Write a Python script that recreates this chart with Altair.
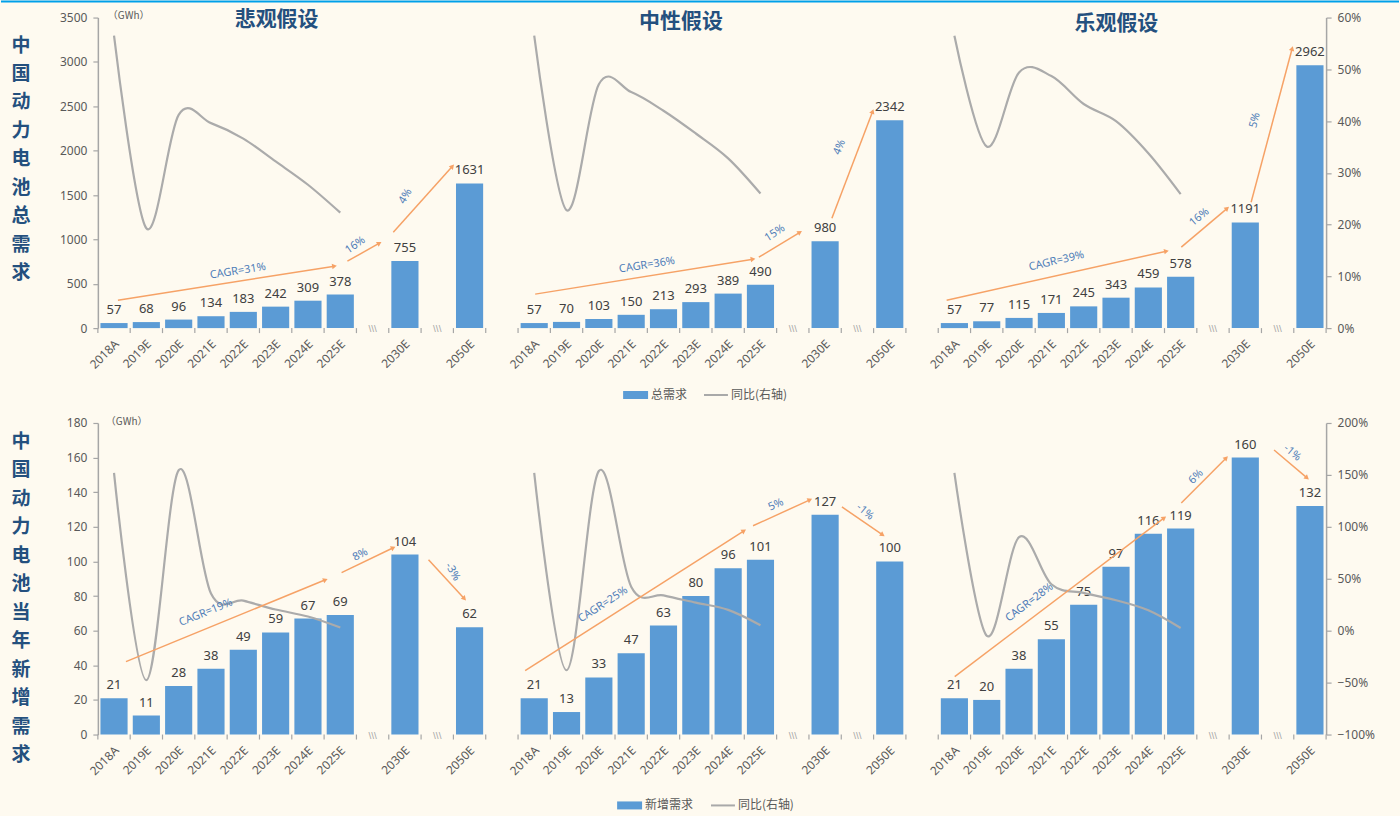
import math
import altair as alt
import pandas as pd

# ---------------- data ----------------
categories = ["2018A", "2019E", "2020E", "2021E", "2022E", "2023E", "2024E", "2025E", "2030E", "2050E"]
slot_index = [0, 1, 2, 3, 4, 5, 6, 7, 9, 11]      # slot of each category inside a panel
break_slot_index = [8, 10]                        # axis-break slots inside a panel
panel_offset = [0, 13, 26]
n_slots = 38
scenario_titles = ["悲观假设", "中性假设", "乐观假设"]

total_pess = [57, 68, 96, 134, 183, 242, 309, 378, 755, 1631]
total_neut = [57, 70, 103, 150, 213, 293, 389, 490, 980, 2342]
total_opt = [57, 77, 115, 171, 245, 343, 459, 578, 1191, 2962]
total_yoy_pess = [56.5, 19.3, 41.2, 39.6, 36.6, 32.2, 27.7, 22.3]
total_yoy_neut = [56.5, 22.8, 47.1, 45.6, 42.0, 37.6, 32.8, 26.0]
total_yoy_opt = [56.5, 35.1, 49.4, 48.7, 43.3, 40.0, 33.8, 25.9]

new_pess = [21, 11, 28, 38, 49, 59, 67, 69, 104, 62]
new_neut = [21, 13, 33, 47, 63, 80, 96, 101, 127, 100]
new_opt = [21, 20, 38, 55, 75, 97, 116, 119, 160, 132]
new_yoy_pess = [152, -47.6, 154.5, 35.7, 28.9, 20.4, 13.6, 3.0]
new_yoy_neut = [152, -38.1, 153.8, 42.4, 34.0, 27.0, 20.0, 5.2]
new_yoy_opt = [152, -4.8, 90.0, 44.7, 36.4, 29.3, 19.6, 2.6]

# growth arrows (x in slot units, y in GWh)
top_arrow_text = ["CAGR=31%", "16%", "4%", "CAGR=36%", "15%", "4%", "CAGR=39%", "16%", "5%"]
top_arrow_from_x = [0.62, 7.72, 9.14, 13.53, 20.45, 22.71, 26.26, 33.52, 35.68]
top_arrow_from_y = [315, 754, 1080, 383, 799, 1238, 315, 912, 1418]
top_arrow_to_x = [7.32, 8.71, 10.97, 20.27, 21.72, 23.97, 33.06, 34.94, 36.95]
top_arrow_to_y = [698, 957, 1823, 777, 1080, 2442, 867, 1350, 3151]
top_label_x = [4.33, 7.97, 9.52, 16.99, 20.95, 22.95, 29.66, 34.08, 35.8]
top_label_y = [641, 934, 1485, 709, 1069, 2037, 754, 1249, 2341]
top_label_angle = [351, 325, 300, 351, 327, 292, 347, 320, 285]

bottom_arrow_text = ["CAGR=19%", "8%", "-3%", "CAGR=25%", "5%", "-1%", "CAGR=28%", "6%", "-1%"]
bottom_arrow_from_x = [0.87, 7.54, 10.23, 13.22, 20.27, 23.02, 26.51, 33.52, 36.39]
bottom_arrow_from_y = [42.1, 93.5, 101, 36.9, 120.6, 131.5, 33.5, 133.8, 164.4]
bottom_arrow_to_x = [7.04, 9.14, 11.34, 19.99, 22.03, 24.28, 32.99, 34.91, 37.41]
bottom_arrow_to_y = [89.4, 107.9, 78.5, 117.7, 135.6, 115.4, 125.2, 159.8, 148.3]
bottom_label_x = [3.34, 8.12, 10.97, 15.63, 20.98, 23.73, 28.82, 33.98, 36.95]
bottom_label_y = [70.4, 103.8, 94, 75, 132.7, 128.6, 76.2, 148.8, 162.7]
bottom_label_angle = [338, 332, 60, 327, 335, 40, 323, 315, 40]

top_left_ticks = [0, 500, 1000, 1500, 2000, 2500, 3000, 3500]
top_right_ticks = [0, 0.1, 0.2, 0.3, 0.4, 0.5, 0.6]
bottom_left_ticks = [0, 20, 40, 60, 80, 100, 120, 140, 160, 180]
bottom_right_ticks = [-1, -0.5, 0, 0.5, 1, 1.5, 2]

# ---------------- style ----------------
W = 1230
BG = "#FEFAF0"
BAR = "#5B9BD5"
AX = "#A6A6A6"
LBL = "#595959"
VAL = "#404040"
ORANGE = "#F6A266"
BLUE_TXT = "#4F7DB8"
TITLE = "#24507E"
CJK = "Noto Sans CJK SC"
NUM = "Noto Sans"


def pix_text(text, x, y, **kw):
    return alt.Chart(pd.DataFrame({"t": [text]})).mark_text(**kw).encode(
        text="t:N", x=alt.value(x), y=alt.value(y))


def build_row(values, yoys, H, ymax, yticks, rdom, rticks, arr, vtitle, vtop, gwh_x, gwh_y,
              legend_name, leg_x, leg_y, is_top):
    xs = alt.Scale(domain=[0, n_slots], nice=False, zero=False)
    ls = alt.Scale(domain=[0, ymax], nice=False, zero=True)
    rs = alt.Scale(domain=rdom, nice=False, zero=False)

    bar_rows, line_rows, brk_rows = [], [], []
    for p in range(3):
        for i, c in enumerate(categories):
            s = panel_offset[p] + slot_index[i]
            bar_rows.append({"xc": s + 0.5, "xa": s + 0.08, "xb": s + 0.92,
                             "v": values[p][i], "lab": str(values[p][i]), "cat": c})
        for i, r in enumerate(yoys[p]):
            s = panel_offset[p] + slot_index[i]
            line_rows.append({"xc": s + 0.5, "r": r / 100.0, "panel": p})
        for b in break_slot_index:
            brk_rows.append({"xc": panel_offset[p] + b + 0.5})
    bdf = pd.DataFrame(bar_rows)
    ldf = pd.DataFrame(line_rows)
    brdf = pd.DataFrame(brk_rows)
    tdf = pd.DataFrame({"b": list(range(n_slots + 1))})

    fx, fy, tx, ty, lx, ly, la, txt = arr
    pxu = W / n_slots
    pyu = H / ymax
    adf = pd.DataFrame({"x1": fx, "y1": fy, "x2": tx, "y2": ty})
    adf["ang"] = [
        math.degrees(math.atan2((b - a) * pxu, (d - c) * pyu)) % 360
        for a, b, c, d in zip(fx, tx, fy, ty)
    ]
    labdf = pd.DataFrame({"x": lx, "y": ly, "a": la, "t": txt})

    ax_kw = dict(title=None, grid=False, domainColor=AX, domainWidth=1.5, tickColor=AX,
                 tickSize=5, tickWidth=1.2, labelColor=LBL, labelFontSize=12, labelFont=NUM)
    left_axis = alt.Axis(values=yticks, format="d", labelPadding=6, **ax_kw)

    bars = alt.Chart(bdf).mark_bar(color=BAR).encode(
        x=alt.X("xa:Q", scale=xs, axis=alt.Axis(labels=False, ticks=False, grid=False, title=None,
                                                domainColor=AX, domainWidth=1.5)),
        x2="xb:Q",
        y=alt.Y("v:Q", scale=ls, axis=left_axis),
        y2=alt.datum(0),
    )
    vlabels = alt.Chart(bdf).mark_text(baseline="bottom", dy=-6, fontSize=13, color=VAL, font=NUM).encode(
        x=alt.X("xc:Q", axis=None), y=alt.Y("v:Q", scale=ls, axis=left_axis), text="lab:N")
    clabels = alt.Chart(bdf).mark_text(angle=315, align="right", baseline="middle", fontSize=12,
                                       color=LBL, font=NUM, dy=4).encode(
        x=alt.X("xc:Q", axis=None), y=alt.value(H + 11), text="cat:N")
    ticks = alt.Chart(tdf).mark_rule(color=AX, strokeWidth=1.2).encode(
        x=alt.X("b:Q", axis=None), y=alt.value(H), y2=alt.value(H + 5))
    breaks = alt.Chart(brdf).mark_text(text="\\\\\\", fontSize=10, color=AX, baseline="middle").encode(
        x=alt.X("xc:Q", axis=None), y=alt.value(H + 1))
    g1 = alt.layer(bars, vlabels, clabels, ticks, breaks)

    line = alt.Chart(ldf).mark_line(interpolate="cardinal", color="#ABABAB", strokeWidth=2.2).encode(
        x=alt.X("xc:Q", axis=None),
        y=alt.Y("r:Q", scale=rs, axis=alt.Axis(orient="right", values=rticks, format=".0%",
                                               labelPadding=6, **ax_kw)),
        detail="panel:N",
    )
    g2 = alt.layer(line)

    ls2 = alt.Scale(domain=[0, ymax], nice=False, zero=True)
    arrows = alt.Chart(adf).mark_rule(color=ORANGE, strokeWidth=1.5).encode(
        x=alt.X("x1:Q", axis=None), x2="x2:Q",
        y=alt.Y("y1:Q", scale=ls2, axis=None), y2="y2:Q")
    heads = alt.Chart(adf).mark_point(shape="triangle-up", filled=True, size=30, color=ORANGE, opacity=1).encode(
        x=alt.X("x2:Q", axis=None), y=alt.Y("y2:Q", scale=ls2, axis=None),
        angle=alt.Angle("ang:Q", scale=None))
    alabels = alt.Chart(labdf).mark_text(fontSize=11, color=BLUE_TXT, font=NUM, baseline="middle").encode(
        x=alt.X("x:Q", axis=None), y=alt.Y("y:Q", scale=ls2, axis=None), text="t:N",
        angle=alt.Angle("a:Q", scale=None))

    extras = []
    extras.append(alt.Chart(pd.DataFrame({"k": [1]})).mark_text(
        text=list(vtitle), lineHeight=28.5, fontSize=19, fontWeight="bold", color=TITLE, font=CJK,
        align="center", baseline="top").encode(x=alt.value(-77), y=alt.value(vtop)))
    extras.append(pix_text("（GWh）", gwh_x, gwh_y, fontSize=10, color=LBL, font=CJK, align="left",
                           baseline="middle"))
    extras.append(alt.Chart(pd.DataFrame({"k": [1]})).mark_rect(color=BAR).encode(
        x=alt.value(leg_x), x2=alt.value(leg_x + 25), y=alt.value(leg_y - 4), y2=alt.value(leg_y + 4)))
    name_w = 13 * len(legend_name)
    extras.append(pix_text(legend_name, leg_x + 28, leg_y, fontSize=12, color=LBL, font=CJK,
                           align="left", baseline="middle"))
    lx0 = leg_x + 28 + name_w + 14
    extras.append(alt.Chart(pd.DataFrame({"k": [1]})).mark_rule(color="#A9A9A9", strokeWidth=2).encode(
        x=alt.value(lx0), x2=alt.value(lx0 + 24), y=alt.value(leg_y)))
    extras.append(pix_text("同比(右轴)", lx0 + 27, leg_y, fontSize=12, color=LBL, font=CJK,
                           align="left", baseline="middle"))
    if is_top:
        extras.append(alt.Chart(pd.DataFrame({"k": [1]})).mark_rule(color="#00A0E9", strokeWidth=2).encode(
            x=alt.value(-97), x2=alt.value(1303), y=alt.value(-16)))
        title_pos = [(179, 2), (584, 4), (1020, 6)]
        for t, (px, py) in zip(scenario_titles, title_pos):
            extras.append(pix_text(t, px, py, fontSize=21, fontWeight="bold", color=TITLE, font=CJK,
                                   align="center", baseline="middle"))
    else:
        extras.append(alt.Chart(pd.DataFrame({"k": [1]})).mark_rule(color=BG, strokeWidth=2).encode(
            x=alt.value(-97), x2=alt.value(1303), y=alt.value(392)))
    g3 = alt.layer(arrows, heads, alabels, *extras)

    return alt.layer(g1, g2, g3).resolve_scale(y="independent").properties(width=W, height=H)


top = build_row(
    [total_pess, total_neut, total_opt],
    [total_yoy_pess, total_yoy_neut, total_yoy_opt],
    311, 3500, top_left_ticks, [0, 0.6], top_right_ticks,
    (top_arrow_from_x, top_arrow_from_y, top_arrow_to_x, top_arrow_to_y,
     top_label_x, top_label_y, top_label_angle, top_arrow_text),
    "中国动力电池总需求", 19, 10, -2, "总需求", 526, 378, True)

bottom = build_row(
    [new_pess, new_neut, new_opt],
    [new_yoy_pess, new_yoy_neut, new_yoy_opt],
    312, 180, bottom_left_ticks, [-1, 2], bottom_right_ticks,
    (bottom_arrow_from_x, bottom_arrow_from_y, bottom_arrow_to_x, bottom_arrow_to_y,
     bottom_label_x, bottom_label_y, bottom_label_angle, bottom_arrow_text),
    "中国动力电池当年新增需求", 10, 8, -1, "新增需求", 520, 383, False)

chart = alt.vconcat(top, bottom, spacing=95, bounds="flush").properties(
    padding=0, background=BG
).configure_view(stroke=None)

chart.save("out.html", embed_options={"renderer": "svg", "actions": False})
